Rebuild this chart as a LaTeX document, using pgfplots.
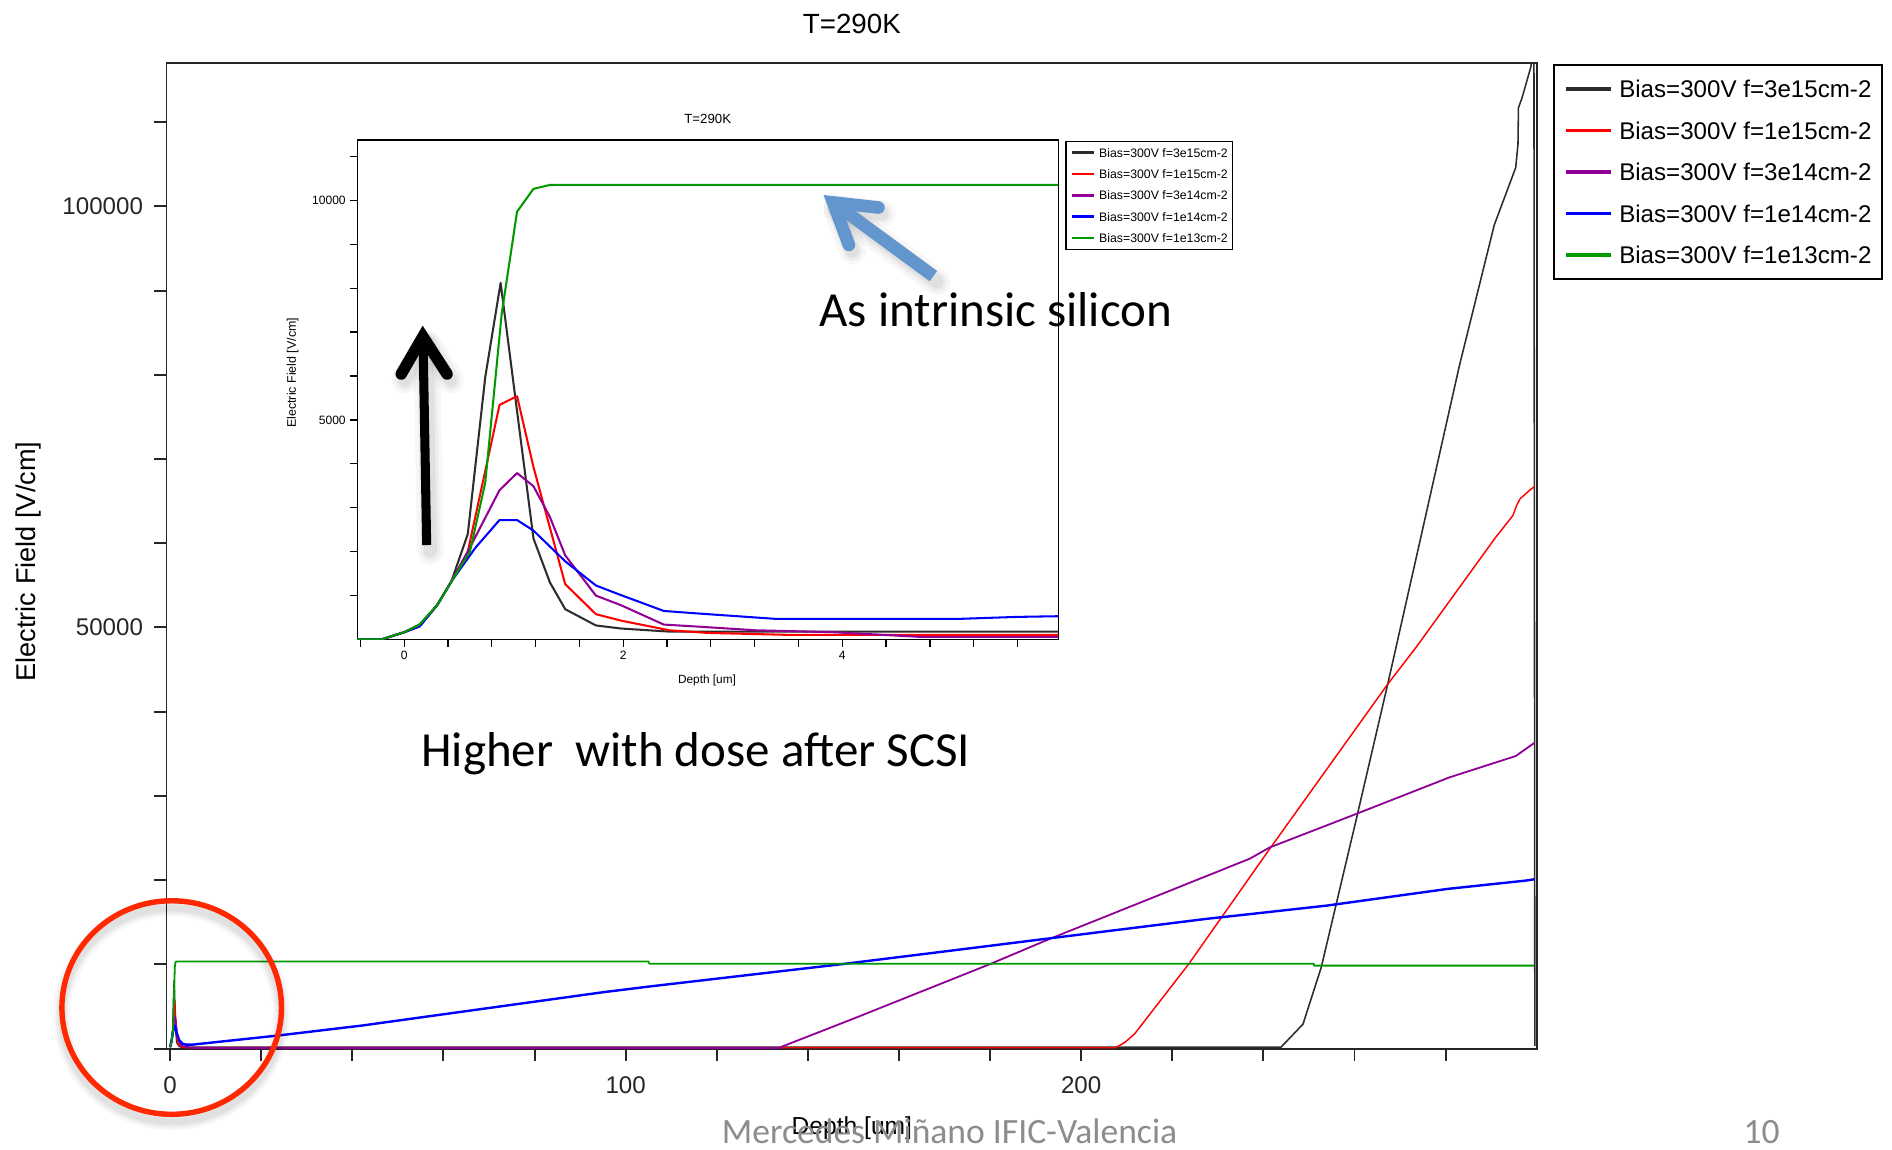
\documentclass[border=0pt]{standalone}
\usepackage{pgfplots}
\pgfplotsset{compat=1.18}
\usepackage{pgfplotstable}
\usepackage{fontspec}
\setmainfont{Liberation Sans}
\newfontfamily\slidefont{Carlito}

\definecolor{fBlack}{RGB}{45,45,45}
\definecolor{fRed}{RGB}{255,0,0}
\definecolor{fPurple}{RGB}{145,0,150}
\definecolor{fBlue}{RGB}{0,0,255}
\definecolor{fGreen}{RGB}{0,153,0}
\definecolor{noteBlue}{RGB}{99,150,204}
\definecolor{ringRed}{RGB}{255,40,0}
\definecolor{footGray}{RGB}{140,140,140}

% ---------- full depth, 0 to 300 um ----------
\pgfplotstableread{
x y
0 166
0.3 780
0.58 2400
0.74 5980
0.88 8120
1.03 5200
1.18 2300
1.47 690
1.98 250
2.42 180
243.9 180
248.7 2900
252.7 9630
260.3 27000
267.3 43270
274.9 61500
283 81000
290.7 97800
295.4 104600
295.9 107400
296 111700
296.8 112900
298.7 116500
299.4 119000
299.6 300
}\fullA
\pgfplotstableread{
x y
0 166
0.3 780
0.58 2000
0.87 5340
1.03 5540
1.18 3925
1.47 1260
1.75 577
1.98 430
2.42 210
3.52 105
207.5 105
209.5 700
211.7 1720
223.6 10030
241.3 23640
267.3 43270
273.5 47620
291 60700
294.8 63300
295.6 64500
296.4 65300
298.7 66400
299.5 66700
}\fullB
\pgfplotstableread{
x y
0 166
0.3 780
0.58 2000
0.87 3400
1.03 3790
1.18 3490
1.47 1915
1.98 780
2.64 300
3.92 166
4.71 60
133.5 60
150 3550
180 10030
193 13000
237 22540
241.4 23880
260.3 27840
280.8 32190
295.4 34730
298.7 35990
299.5 36300
}\fullC
\pgfplotstableread{
x y
0 166
0.43 1320
0.65 2090
0.87 2720
1.03 2720
1.18 2480
1.47 1780
1.98 1010
2.64 600
3.39 470
5.07 470
5.97 530
23.6 1544
42.1 2731
68.6 4714
95.1 6694
105.7 7400
148 10057
174.6 11838
201 13620
227.5 15400
237 15960
254 16980
280.5 18960
297.7 19950
299.5 20100
}\fullD
\pgfplotstableread{
x y
0 166
0.3 780
0.6 2000
0.74 3575
0.89 7420
1.03 9740
1.18 10260
1.33 10330
105 10330
105.2 10080
251 10080
251.2 9850
299.5 9850
}\fullE

% ---------- first micrometres ----------
\pgfplotstableread{
x y
-0.43 0
-0.21 0
0 166
0.14 340
0.3 780
0.43 1320
0.58 2400
0.74 5980
0.88 8120
1.03 5200
1.18 2300
1.33 1300
1.47 690
1.75 320
1.98 250
2.42 180
5.97 180
}\nearA
\pgfplotstableread{
x y
-0.43 0
-0.21 0
0 166
0.14 300
0.3 780
0.43 1320
0.58 2000
0.87 5340
1.03 5540
1.18 3925
1.47 1260
1.75 577
1.98 430
2.42 210
2.77 150
3.52 105
5.97 105
}\nearB
\pgfplotstableread{
x y
-0.43 0
-0.21 0
0 166
0.14 300
0.3 780
0.43 1320
0.58 2000
0.87 3400
1.03 3790
1.18 3490
1.33 2790
1.47 1915
1.75 1000
1.98 780
2.37 340
2.64 300
3.21 210
3.92 166
4.71 60
5.97 60
}\nearC
\pgfplotstableread{
x y
-0.43 0
-0.21 0
0 166
0.14 300
0.3 780
0.43 1320
0.65 2090
0.87 2720
1.03 2720
1.18 2480
1.36 2045
1.47 1780
1.75 1230
1.98 1010
2.37 650
2.64 600
3.39 470
5.07 470
5.6 515
5.97 530
}\nearD
\pgfplotstableread{
x y
-0.43 0
-0.21 0
0 166
0.14 340
0.3 780
0.43 1320
0.6 2000
0.74 3575
0.89 7420
1.03 9740
1.18 10260
1.33 10350
5.97 10350
}\nearE

\begin{document}
\begin{tikzpicture}[x=1bp,y=1bp]
\path[use as bounding box] (0,0) rectangle (1568,953);

% ---------------- main plot ----------------
\begin{axis}[
  at={(138bp,84bp)}, anchor=south west,
  scale only axis, width=1136bp, height=817bp,
  xmin=-0.8, xmax=300.13, ymin=0, ymax=117050,
  scaled ticks=false,
  axis line style={line width=1.6bp, color=black!85},
  tick style={line width=1.6bp, color=black!85},
  tick align=outside, major tick length=10bp,
  xtick pos=bottom, ytick pos=left,
  xtick={0,20,...,280},
  xticklabels={0,{},{},{},{},100,{},{},{},{},200,{},{},{},{}},
  ytick={0,10000,...,110000},
  yticklabels={{},{},{},{},{},50000,{},{},{},{},100000,{}},
  tick label style={font=\fontsize{20bp}{24bp}\selectfont, text=black!85},
  xticklabel style={yshift=-10bp},
  yticklabel style={xshift=-6bp},
  title={T=290K},
  title style={at={(axis description cs:0.5,1)}, anchor=base, yshift=18bp,
    font=\fontsize{23bp}{28bp}\selectfont},
  xlabel={Depth [um]},
  xlabel style={at={(axis description cs:0.5,0)}, anchor=center, yshift=-66bp,
    font=\fontsize{20.4bp}{24bp}\selectfont},
  ylabel={Electric Field [V/cm]},
  ylabel style={at={(axis description cs:-0.1004,0.494)}, anchor=center,
    font=\fontsize{22.5bp}{26bp}\selectfont},
  legend style={at={(axis description cs:1.0114,0.9988)}, anchor=north west,
    draw=black, line width=1.4bp, fill=white,
    font=\fontsize{20bp}{24bp}\selectfont,
    inner xsep=9bp, inner ysep=12.7bp, row sep=19.6bp, column sep=5.5bp,
    nodes={inner sep=0pt, text height=14.8bp, text depth=0bp}},
  legend cell align=left,
  legend image code/.code={\draw (0bp,0bp) -- (37bp,0bp);},
  legend image post style={line width=2.8bp},
  every axis plot/.append style={line join=round},
]
\addplot[fBlack, line width=1.3bp] table {\fullA};
\addplot[fRed, line width=1.2bp] table {\fullB};
\addplot[fPurple, line width=1.5bp] table {\fullC};
\addplot[fBlue, line width=2bp] table {\fullD};
\addplot[fGreen, line width=1.5bp] table {\fullE};
\legend{Bias=300V f=3e15cm-2, Bias=300V f=1e15cm-2, Bias=300V f=3e14cm-2,
  Bias=300V f=1e14cm-2, Bias=300V f=1e13cm-2}
\end{axis}

% ---------------- inset: first micrometres ----------------
\begin{axis}[
  at={(296bp,423bp)}, anchor=south west,
  scale only axis, width=581bp, height=414bp,
  xmin=-0.43, xmax=5.972, ymin=0, ymax=11374,
  scaled ticks=false,
  axis background/.style={fill=white},
  axis line style={line width=1.1bp, color=black},
  tick style={line width=1bp, color=black},
  tick align=outside, major tick length=6bp,
  xtick pos=bottom, ytick pos=left,
  xtick={-0.4,0,0.4,0.8,1.2,1.6,2,2.4,2.8,3.2,3.6,4,4.4,4.8,5.2,5.6},
  xticklabels={{},0,{},{},{},{},2,{},{},{},{},4,{},{},{},{}},
  ytick={1000,2000,...,11000},
  yticklabels={{},{},{},{},5000,{},{},{},{},10000,{}},
  tick label style={font=\fontsize{10bp}{12bp}\selectfont},
  title={T=290K},
  title style={at={(axis description cs:0.5,1)}, anchor=base, yshift=8bp,
    font=\fontsize{11bp}{13bp}\selectfont},
  xlabel={Depth [um]},
  xlabel style={at={(axis description cs:0.499,0)}, anchor=center, yshift=-34bp,
    font=\fontsize{9.8bp}{12bp}\selectfont},
  ylabel={Electric Field [V/cm]},
  ylabel style={at={(axis description cs:-0.0919,0.534)}, anchor=center,
    font=\fontsize{10.3bp}{12bp}\selectfont},
  legend style={at={(axis description cs:1.0103,0.9986)}, anchor=north west,
    draw=black, line width=1bp, fill=white,
    font=\fontsize{10.2bp}{12bp}\selectfont,
    inner xsep=4bp, inner ysep=5.6bp, row sep=10.1bp, column sep=3.5bp,
    nodes={inner sep=0pt, text height=7.6bp, text depth=0bp}},
  legend cell align=left,
  legend image code/.code={\draw (0bp,0bp) -- (17.7bp,0bp);},
  legend image post style={line width=2.2bp},
  every axis plot/.append style={line join=round},
]
\addplot[fBlack, line width=1.7bp] table {\nearA};
\addplot[fRed, line width=1.7bp] table {\nearB};
\addplot[fPurple, line width=1.7bp] table {\nearC};
\addplot[fBlue, line width=1.7bp] table {\nearD};
\addplot[fGreen, line width=1.7bp] table {\nearE};
\legend{Bias=300V f=3e15cm-2, Bias=300V f=1e15cm-2, Bias=300V f=3e14cm-2,
  Bias=300V f=1e14cm-2, Bias=300V f=1e13cm-2}
\end{axis}

% ---------------- annotations ----------------
% soft shadows
\begin{scope}[shift={(3bp,-5bp)}, black]
  \foreach \w/\o in {22/0.03, 16/0.04, 11/0.05} {
    \draw[opacity=\o, line width=\w bp, line cap=round] (353.6,501.3) -- (350.6,672);
    \draw[opacity=\o, line width=\w bp, line cap=round, line join=round] (332.5,643) -- (350.5,674) -- (370.5,643);
    \draw[opacity=\o, line width=\w bp, line cap=round] (773.5,724.2) -- (690.4,785.2);
    \draw[opacity=\o, line width=\w bp, line cap=round, line join=round] (728,781) -- (690.4,785.2) -- (703.5,750);
  }
\end{scope}
\begin{scope}[shift={(0bp,-6bp)}, black]
  \foreach \w/\o in {14/0.03, 10/0.04, 6/0.05} {
    \draw[opacity=\o, line width=\w bp] (142.3,118) ellipse [x radius=91, y radius=88.5];
  }
\end{scope}

% upward arrow
\draw[black, line width=7.5bp] (353.6,501.3) -- (350.6,672);
\draw[black, line width=9.5bp, line cap=round, line join=miter] (332.5,643) -- (350.5,674) -- (370.5,643);

% arrow towards the plateau
\draw[noteBlue, line width=10.5bp] (773.5,724.2) -- (691.5,784.4);
\draw[noteBlue, line width=10.5bp, line cap=round, line join=miter] (728,781) -- (690.4,785.2) -- (703.5,750);

% ring around the surface region
\draw[ringRed, line width=4.5bp] (142.3,118) ellipse [x radius=91, y radius=88.5];

\node[anchor=base west, inner sep=0pt, font=\slidefont\fontsize{40.6bp}{48bp}\selectfont]
  at (679,682.3) {As intrinsic silicon};
\node[anchor=base west, inner sep=0pt, font=\slidefont\fontsize{40.6bp}{48bp}\selectfont]
  at (349,318) {Higher\ \ with dose after SCSI};

\node[anchor=base, inner sep=0pt, text=footGray, font=\slidefont\fontsize{29.5bp}{36bp}\selectfont]
  at (787,5) {Mercedes Miñano IFIC-Valencia};
\node[anchor=base, inner sep=0pt, text=footGray, font=\slidefont\fontsize{29.5bp}{36bp}\selectfont]
  at (1460,5) {10};
\end{tikzpicture}
\end{document}
